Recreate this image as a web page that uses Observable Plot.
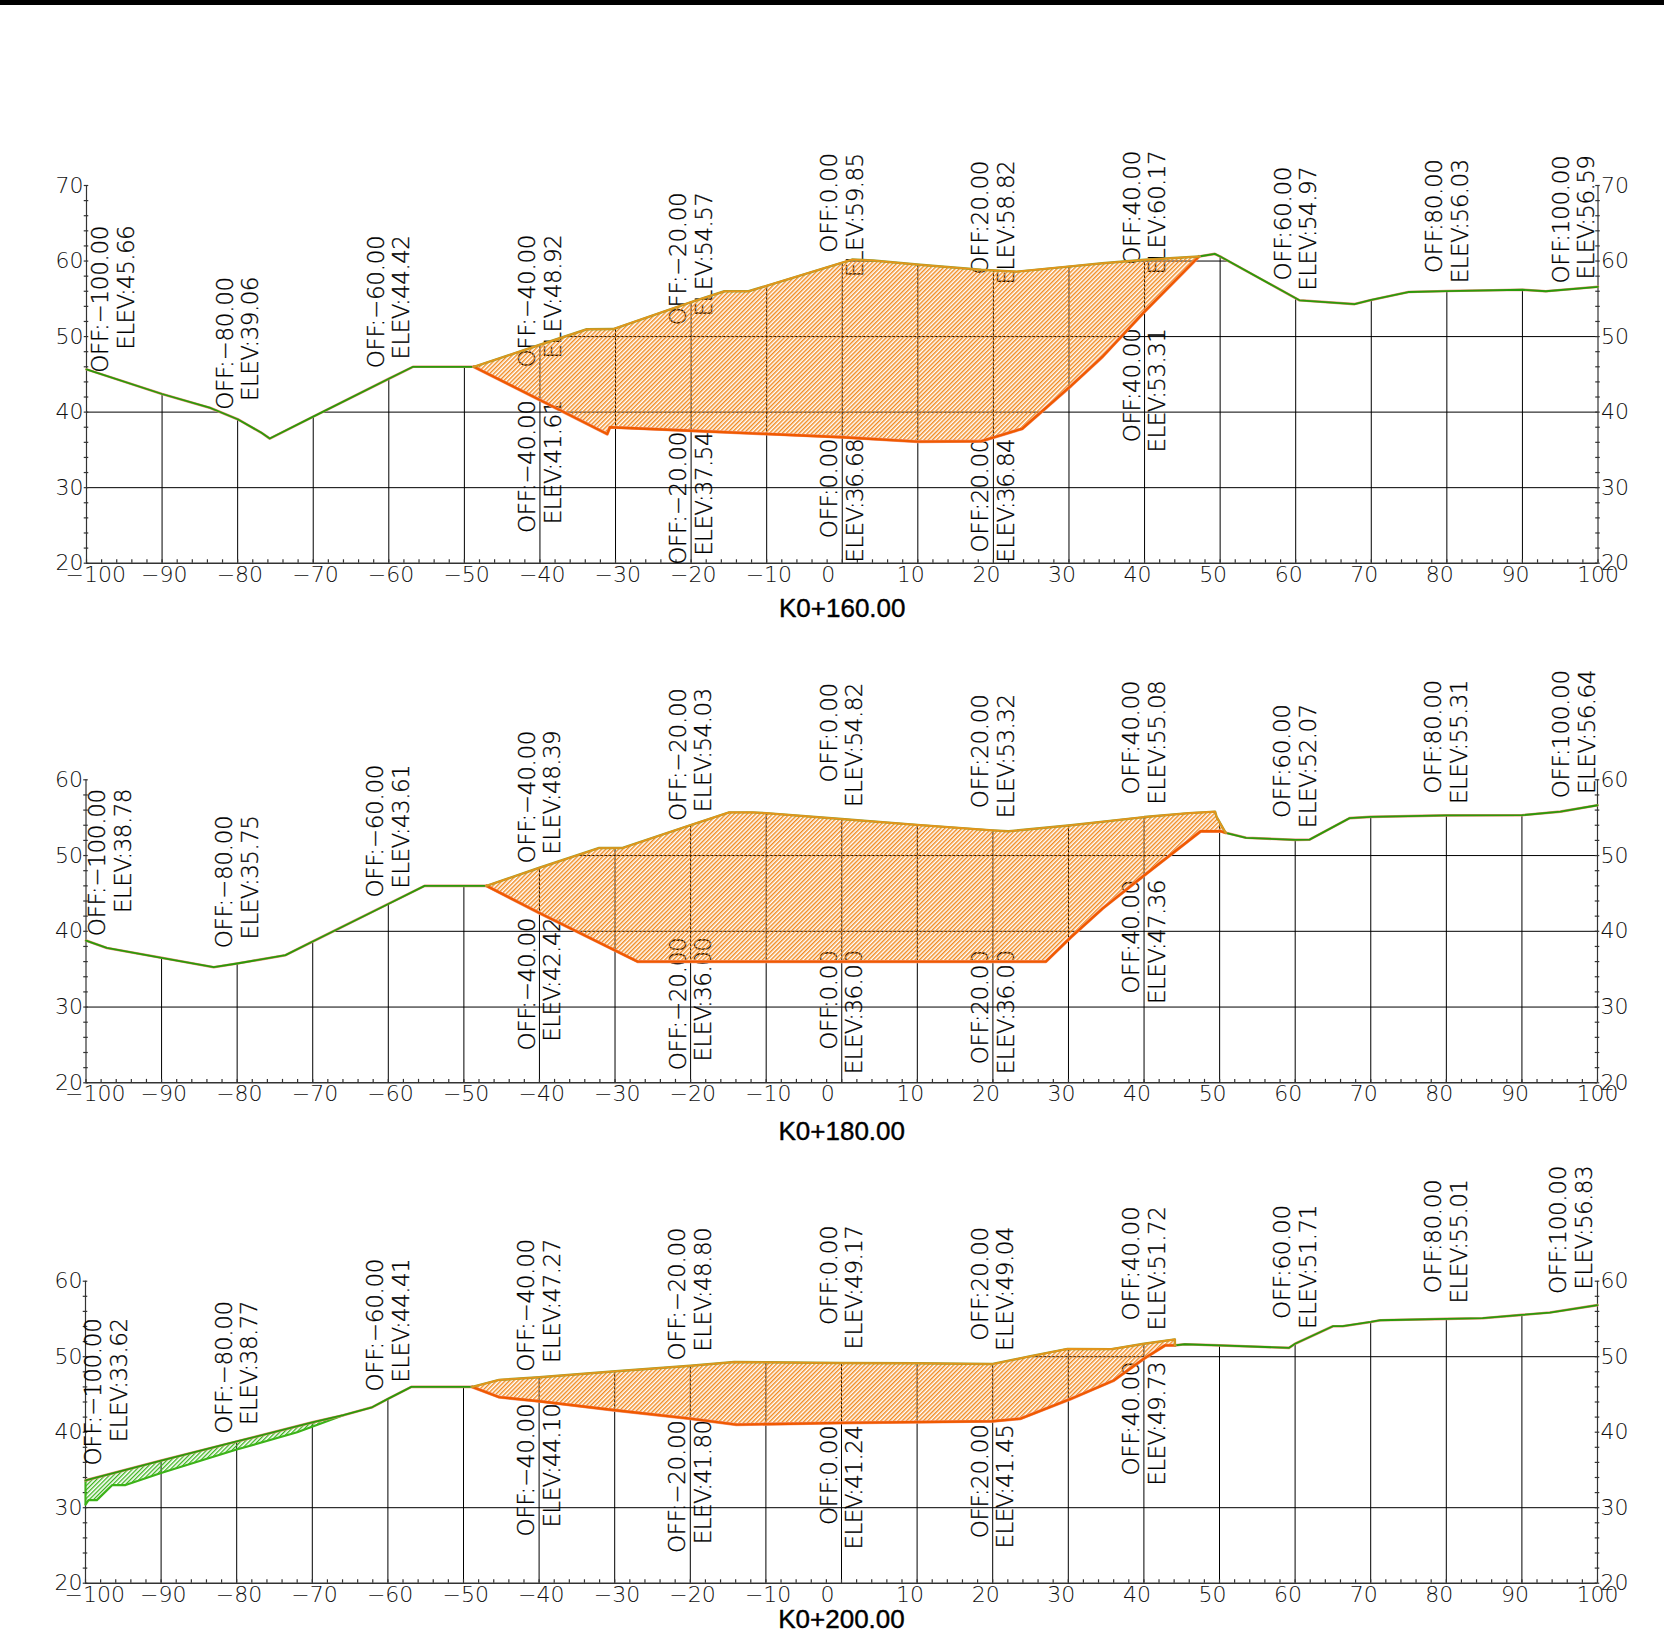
<!DOCTYPE html>
<html>
<head>
<meta charset="utf-8">
<script src="https://cdn.jsdelivr.net/npm/d3@7"></script>
<script src="https://cdn.jsdelivr.net/npm/@observablehq/plot@0.6"></script>
<style>
  html, body { margin: 0; padding: 0; background: #fff; }
  #page { position: relative; width: 1664px; height: 1635px; overflow: hidden; }
  #topbar { position: absolute; left: 0; top: 0; width: 1664px; height: 5px; background: #000; }
  #page svg.chart { display: block; }
  .lab-off, .lab-off text { letter-spacing: -0.3px; }
  .lab-elev, .lab-elev text { letter-spacing: -0.55px; }
</style>
</head>
<body>
<svg width="0" height="0" style="position:absolute">
  <defs>
    <pattern id="hatchCut" patternUnits="userSpaceOnUse" width="3" height="3" patternTransform="rotate(45)">
      <rect x="0" y="0" width="1.45" height="3" fill="#f08a20"></rect>
    </pattern>
    <pattern id="hatchFill" patternUnits="userSpaceOnUse" width="3" height="3" patternTransform="rotate(45)">
      <rect x="0" y="0" width="1.3" height="3" fill="#3cb31c"></rect>
    </pattern>
  </defs>
</svg>
<div id="page"><div id="topbar"></div></div>
<script>
// ---------- shared axis values ----------
const xLabelTicks = d3.range(-100, 101, 10);
const xMinorTicks = d3.range(-100, 101, 2);
const gridOffsets = d3.range(-90, 91, 10);
const upperOff = [-100, -80, -60, -40, -20, 0, 20, 40, 60, 80, 100];
const lowerOff = [-40, -20, 0, 20, 40];

// ---------- K0+160.00 ----------
const p1GroundLeft = [[-100,45.66],[-90,42.4],[-83.6,40.55],[-80,39.06],[-76.9,37.3],[-75.75,36.5],[-70,39.4],[-60,44.42],[-56.8,46],[-48.75,46]];
const p1CutTop = [[-48.75,46],[-40,48.92],[-33.8,50.97],[-30.3,51],[-20,54.57],[-15.6,56],[-12.4,56],[1.3,60.2],[4.1,60.07],[10.3,59.5],[18.4,58.85],[23.1,58.6],[30.2,59.3],[34.4,59.7],[40,60.17],[47.2,60.6]];
const p1CutBase = [[-48.75,46],[-40,41.61],[-31.1,37.1],[-30.75,38],[-20,37.54],[0,36.68],[10,36.1],[18.4,36.15],[23.8,37.8],[30.3,43.5],[34.4,47.3],[40,53.31],[47.2,60.6]];
const p1GroundRight = [[47.2,60.6],[49.3,60.95],[50.2,60.5],[60.5,54.8],[67.8,54.3],[70,54.85],[74.9,55.9],[80,56.03],[90,56.2],[93.1,56],[100,56.59]];
const p1UpperElev = [45.66,39.06,44.42,48.92,54.57,59.85,58.82,60.17,54.97,56.03,56.59];
const p1UpperTop = [64.4,57.6,63.1,63.2,68.8,74,73,74.3,72.2,73.2,73.7];
const p1LowerElev = [41.61,37.54,36.68,36.84,53.31];
const p1LowerTop = [41.3,37.1,36.2,36.2,50.8];
const p1LabelX = [-96.5,-80,-60,-40,-20,0,20,40,60,80,96.8];

// ---------- K0+180.00 ----------
const p2GroundLeft = [[-100,38.78],[-97.25,37.8],[-90,36.5],[-83.1,35.26],[-80,35.75],[-73.6,36.85],[-70,38.65],[-60,43.61],[-55.2,46],[-47,46]];
const p2CutTop = [[-47,46],[-40,48.39],[-32.1,51],[-29,51],[-20,54.03],[-14.9,55.7],[-11.8,55.7],[-10,55.6],[0,54.82],[10,54.05],[20,53.32],[22.05,53.2],[30.3,54],[40,55.08],[45.9,55.6],[49.4,55.8],[49.6,55.1],[50.8,53]];
const p2CutBase = [[-47,46],[-40,42.42],[-27,36],[27,36],[30.3,39.2],[34.5,43],[40,47.36],[47.5,53.2],[50.2,53.2],[50.8,53]];
const p2GroundRight = [[50.8,53],[53.5,52.34],[60,52.07],[61.9,52.1],[67.2,54.94],[70,55.1],[80,55.31],[90,55.33],[95.1,55.8],[100,56.64]];
const p2UpperElev = [38.78,35.75,43.61,48.39,54.03,54.82,53.32,55.08,52.07,55.31,56.64];
const p2UpperTop = [58.5,55,61.7,66.2,71.8,72.5,71,72.8,69.7,72.9,74.2];
const p2LowerElev = [42.42,36,36,36,47.36];
const p2LowerTop = [41.5,38.9,37.2,37.2,46.5];
const p2LabelX = [-96.8,-80,-60,-40,-20,0,20,40,60,80,96.9];

// ---------- K0+200.00 ----------
const p3GroundLeft = [[-100,33.62],[-90,36.25],[-80,38.77],[-70,41.3],[-65.9,42.25],[-62.1,43.3],[-60,44.41],[-56.9,46],[-48.85,46]];
const p3FillBase = [[-100,30.4],[-99.6,31],[-98.5,31],[-96.45,33],[-94.7,33],[-90,34.6],[-80,37.7],[-72,40],[-65.9,42.25]];
const p3CutTop = [[-48.85,46],[-45.3,46.93],[-40,47.27],[-29.9,48.08],[-20,48.8],[-14.2,49.3],[-10,49.27],[0,49.17],[10,49.14],[20,49.04],[25,50.07],[29.9,51.04],[35.7,51],[40,51.72],[44.1,52.3],[44.1,51.5]];
const p3CutBase = [[-48.85,46],[-45.3,44.65],[-40,44.1],[-29.9,42.9],[-20,41.8],[-13.9,41],[0,41.24],[20,41.45],[23.7,41.8],[30.3,44.4],[34.5,46.2],[36,46.85],[40,49.73],[42.8,51.5],[44.1,51.5]];
const p3GroundRight = [[44.1,51.5],[45.4,51.65],[50,51.5],[59.2,51.17],[60,51.71],[65,54.04],[66.3,54.04],[70,54.6],[71.3,54.83],[80,55.01],[84.8,55.1],[90,55.54],[93.7,55.85],[100,56.83]];
const p3UpperElev = [33.62,38.77,44.41,47.27,48.8,49.17,49.04,51.72,51.71,55.01,56.83];
const p3UpperTop = [54.8,57.1,62.7,65.3,66.8,67.1,66.9,69.6,69.8,73.2,75];
const p3LowerElev = [44.1,41.8,41.24,41.45,49.73];
const p3LowerTop = [43.5,41.3,40.6,40.75,49.05];
const p3LabelX = [-97.3,-80,-60,-40,-20,0,20,40,60,80,96.5];

// ---------- helpers ----------
const minus = s => String(s).replace("-", "\u2212");
const interp = (pts, x) => {
  for (let i = 1; i < pts.length; i++) {
    const [a, b] = [pts[i - 1], pts[i]];
    if (x >= a[0] && x <= b[0] && b[0] > a[0]) return a[1] + (b[1] - a[1]) * (x - a[0]) / (b[0] - a[0]);
  }
  return pts[pts.length - 1][1];
};
// Stretches of a level that lie under a polyline: the drawing hides the grid above the section.
const runsUnder = (pts, level) => {
  const runs = []; let start = pts[0][1] >= level ? pts[0][0] : null;
  for (let i = 1; i < pts.length; i++) {
    const [a, b] = [pts[i - 1], pts[i]];
    if ((a[1] - level) * (b[1] - level) < 0) {
      const c = a[0] + (level - a[1]) * (b[0] - a[0]) / (b[1] - a[1]);
      if (b[1] > level) start = c; else { if (start !== null) runs.push({y: level, x1: start, x2: c}); start = null; }
    }
  }
  if (start !== null) runs.push({y: level, x1: start, x2: pts[pts.length - 1][0]});
  return runs;
};
const pt = ([x, y]) => ({x, y});
const lineOf = (pts, stroke, strokeWidth) => Plot.line(pts.map(pt), {x: "x", y: "y", stroke, strokeWidth, strokeLinejoin: "round"});
const polygon = (a, b, fill) => Plot.line([...a, ...b.slice().reverse()].map(pt), {x: "x", y: "y", fill, stroke: "none"});

function panel(o) {
  const surface = [...o.groundLeft, ...o.cutTop, ...o.groundRight];
  const ceiling = o.fillBase
    ? [...o.fillBase, ...o.groundLeft.filter(d => d[0] > o.fillBase[o.fillBase.length - 1][0]), ...o.cutTop, ...o.groundRight]
    : surface;
  const levels = d3.range(30, o.yMax + 1, 10);
  const hRules = levels.flatMap(l => runsUnder(ceiling, l));
  const vRules = gridOffsets.map(x => ({x, y: interp(surface, x)}));
  const yMinor = d3.range(20, o.yMax + 1, 2);
  const labels = [
    ...upperOff.map((off, i) => ({x: o.labelX[i], y: o.upperTop[i], off, elev: o.upperElev[i]})),
    ...lowerOff.map((off, i) => ({x: o.labelX[i + 3], y: o.lowerTop[i], off, elev: o.lowerElev[i]}))
  ];
  const labelOpts = {x: "x", y: "y", rotate: -90, textAnchor: "end", lineAnchor: "middle", fontSize: 23, dy: -2, fill: "#000", stroke: "#000", strokeWidth: 0.3};
  const axisText = {tickSize: 0, fontSize: 22, label: null, tickFormat: minus, fill: "#111", stroke: "#111", strokeWidth: 0.15};

  const chart = Plot.plot({
    width: 1664, height: o.height,
    marginTop: o.marginTop, marginBottom: o.marginBottom, marginLeft: o.marginLeft, marginRight: o.marginRight,
    x: {domain: [-100, 100]},
    y: {domain: [20, o.yMax]},
    style: {fontFamily: "'DejaVu Sans'", fontWeight: 200, background: "transparent", overflow: "visible"},
    marks: [
      Plot.ruleY(hRules, {y: "y", x1: "x1", x2: "x2", stroke: "#000", strokeWidth: 1}),
      Plot.ruleX(vRules, {x: "x", y1: 20, y2: "y", stroke: "#000", strokeWidth: 1}),
      Plot.ruleY([20], {x1: -100, x2: 100, stroke: "#333", strokeWidth: 1.4}),
      Plot.ruleX([-100, 100], {y1: 20, y2: o.yMax, stroke: "#333", strokeWidth: 1.2}),
      Plot.ruleX(xMinorTicks, {x: d => d, y1: 20, y2: 20.45, stroke: "#333", strokeWidth: 1.2}),
      Plot.ruleY(yMinor, {y: d => d, x1: -100.3, x2: -99.7, stroke: "#333", strokeWidth: 1.2}),
      Plot.ruleY(yMinor, {y: d => d, x1: 99.7, x2: 100.3, stroke: "#333", strokeWidth: 1.2}),
      Plot.axisX({...axisText, ticks: xLabelTicks, tickPadding: 3, textAnchor: "start", dx: -21}),
      Plot.axisY({...axisText, anchor: "left", ticks: d3.range(20, o.yMax + 1, 10), tickPadding: 3}),
      Plot.axisY({...axisText, anchor: "right", ticks: d3.range(20, o.yMax + 1, 10), tickPadding: 3}),
      Plot.text(labels, {...labelOpts, text: d => `OFF:${minus(d.off.toFixed(2))}`, dx: -12.3, className: "lab-off"}),
      Plot.text(labels, {...labelOpts, text: d => `ELEV:${d.elev.toFixed(2)}`, dx: 13.3, className: "lab-elev"}),
      polygon(o.cutTop, o.cutBase, "url(#hatchCut)"),
      ...(o.fillBase ? [polygon(o.groundLeft.filter(d => d[0] <= o.fillBase[o.fillBase.length - 1][0]), o.fillBase, "url(#hatchFill)")] : []),
      ...(o.fillBase ? [lineOf(o.fillBase, "#3cb318", 2.2), Plot.ruleX([-100], {y1: o.fillBase[0][1], y2: o.groundLeft[0][1], stroke: "#3cb318", strokeWidth: 2})] : []),
      lineOf(o.groundLeft, "#e09070", 2.6),
      lineOf(o.groundLeft, "#2a9a0a", 1.8),
      lineOf(o.groundRight, "#e09070", 2.6),
      lineOf(o.groundRight, "#2a9a0a", 1.8),
      lineOf(o.cutBase, "#f49a80", 3.2),
      lineOf(o.cutBase, "#f05a00", 2.4),
      lineOf(o.cutTop, "#9aa030", 2.4),
      lineOf(o.cutTop, "#e8941a", 1.6),
      Plot.text([o.title], {x: 0, y: 20, dy: o.titleDy, text: d => d, textAnchor: "middle", lineAnchor: "bottom", fontSize: 26, fontFamily: "'Liberation Sans'", fontWeight: 400, fill: "#000", stroke: "#000", strokeWidth: 0.4})
    ]
  });
  chart.classList.add("chart");
  document.getElementById("page").appendChild(chart);
}

panel({title: "K0+160.00", yMax: 70, height: 630, marginTop: 185, marginBottom: 67.3, marginLeft: 86, marginRight: 66.5, titleDy: 54,
  groundLeft: p1GroundLeft, cutTop: p1CutTop, cutBase: p1CutBase, groundRight: p1GroundRight,
  upperElev: p1UpperElev, upperTop: p1UpperTop, lowerElev: p1LowerElev, lowerTop: p1LowerTop, labelX: p1LabelX});
panel({title: "K0+180.00", yMax: 60, height: 520, marginTop: 149.3, marginBottom: 67.7, marginLeft: 85.5, marginRight: 67, titleDy: 57,
  groundLeft: p2GroundLeft, cutTop: p2CutTop, cutBase: p2CutBase, groundRight: p2GroundRight,
  upperElev: p2UpperElev, upperTop: p2UpperTop, lowerElev: p2LowerElev, lowerTop: p2LowerTop, labelX: p2LabelX});
panel({title: "K0+200.00", yMax: 60, height: 485, marginTop: 130.7, marginBottom: 52.3, marginLeft: 85, marginRight: 67, titleDy: 45,
  groundLeft: p3GroundLeft, fillBase: p3FillBase, cutTop: p3CutTop, cutBase: p3CutBase, groundRight: p3GroundRight,
  upperElev: p3UpperElev, upperTop: p3UpperTop, lowerElev: p3LowerElev, lowerTop: p3LowerTop, labelX: p3LabelX});
</script>
</body>
</html>
